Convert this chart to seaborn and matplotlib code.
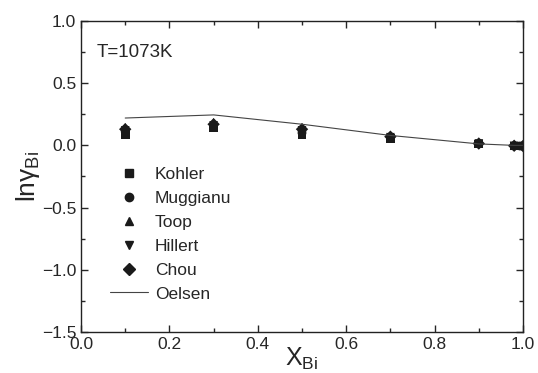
import pandas as pd
import matplotlib
matplotlib.use('Agg')
import matplotlib.pyplot as plt
from matplotlib.ticker import MultipleLocator
import seaborn as sns

# Data
x_bi = [0.1, 0.3, 0.5, 0.7, 0.9, 0.98, 1.0]
kohler = [0.09, 0.14, 0.09, 0.055, 0.012, -0.005, -0.005]
muggianu = [0.11, 0.15, 0.10, 0.060, 0.012, -0.005, -0.005]
toop = [0.145, 0.185, 0.145, 0.075, 0.018, -0.002, -0.005]
hillert = [0.12, 0.16, 0.12, 0.065, 0.015, -0.004, -0.005]
chou = [0.13, 0.17, 0.13, 0.070, 0.015, -0.003, -0.005]
oelsen = [0.22, 0.245, 0.17, 0.08, 0.012, 0.0, 0.0]

models = {'Kohler': kohler, 'Muggianu': muggianu, 'Toop': toop,
          'Hillert': hillert, 'Chou': chou}
markers = {'Kohler': 's', 'Muggianu': 'o', 'Toop': '^', 'Hillert': 'v', 'Chou': 'D'}

rows = []
for name, vals in models.items():
    for xv, yv in zip(x_bi, vals):
        rows.append({'x': xv, 'y': yv, 'model': name})
df = pd.DataFrame(rows)
df_line = pd.DataFrame({'x': x_bi, 'y': oelsen})

sns.set_style('ticks')
plt.rcParams['font.family'] = ['Liberation Sans', 'DejaVu Sans']
plt.rcParams['mathtext.fontset'] = 'custom'
plt.rcParams['mathtext.rm'] = 'Liberation Sans'
plt.rcParams['mathtext.it'] = 'Liberation Sans'

fig = plt.figure(figsize=(5.38, 3.73), dpi=100)
ax = fig.add_axes([0.1506, 0.11, 0.8215, 0.8337])

sns.lineplot(data=df_line, x='x', y='y', color='#444444', linewidth=0.8,
             ax=ax, label='Oelsen', legend=False)
sns.scatterplot(data=df, x='x', y='y', style='model', markers=markers,
                color='#1a1a1a', s=40, edgecolor='none', ax=ax, legend=False)

# legend
handles = []
for name, m in markers.items():
    handles.append(plt.Line2D([], [], marker=m, linestyle='none', color='#1a1a1a',
                              markersize=6, label=name))
handles.append(plt.Line2D([], [], color='#444444', linewidth=0.8, label='Oelsen'))
ax.legend(handles=handles, loc='upper left', bbox_to_anchor=(0.03, 0.58),
          frameon=False, fontsize=12.5, handlelength=2.2, labelspacing=0.5,
          handletextpad=0.4)

ax.set_xlim(0.0, 1.0)
ax.set_ylim(-1.5, 1.0)
ax.xaxis.set_major_locator(MultipleLocator(0.2))
ax.xaxis.set_minor_locator(MultipleLocator(0.1))
ax.yaxis.set_major_locator(MultipleLocator(0.5))
ax.yaxis.set_minor_locator(MultipleLocator(0.25))
ax.tick_params(which='both', direction='in', top=True, right=True,
               labelsize=12.5, width=1)
ax.tick_params(which='major', length=5)
ax.tick_params(which='minor', length=3)
for s in ax.spines.values():
    s.set_linewidth(1)
    s.set_color('#222222')

ax.set_xlabel(r'$\mathregular{X_{Bi}}$', fontsize=18, labelpad=-4)
ax.set_ylabel(r'$\mathregular{ln\gamma_{Bi}}$', fontsize=19, labelpad=0)
ax.text(0.035, 0.9, 'T=1073K', transform=ax.transAxes, fontsize=13.5,
        va='center', ha='left')

fig.savefig('out.png', dpi=100)
